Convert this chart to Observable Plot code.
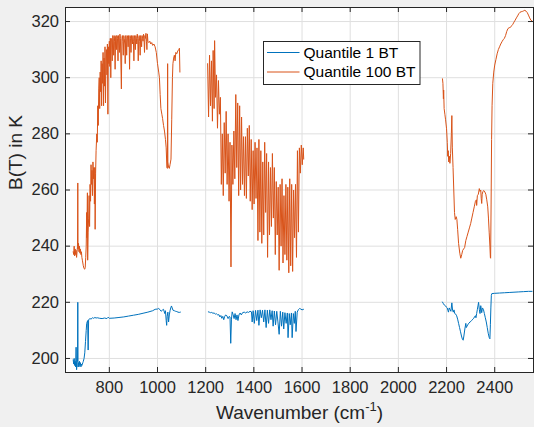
<!DOCTYPE html>
<html>
<head>
<meta charset="utf-8">
<script src="https://cdn.jsdelivr.net/npm/d3@7"></script>
<script src="https://cdn.jsdelivr.net/npm/@observablehq/plot@0.6"></script>
<style>
  html, body { margin: 0; padding: 0; background: #f0f0f0; }
  #chart svg { display: block; }
</style>
</head>
<body>
<div id="chart"></div>
<script>
// ---- Data ----
const seriesNames = ["Quantile 1 BT", "Quantile 100 BT"];
const seriesColors = ["#0072BD", "#D95319"];
const xTicks = [800, 1000, 1200, 1400, 1600, 1800, 2000, 2200, 2400];
const yTicks = [200, 220, 240, 260, 280, 300, 320];

// Quantile 1 BT, band 1
const q1Band1 = [[650,199.5],[652,198],[654,200],[656,197.5],[658,199],[660,197],[662,204],[664,196],[666,198.5],[668,199],[669,220],[670,197],[672,198.5],[674,197],[676,199],[678,197.5],[680,198.5],[682,197],[684,198],[686,197.5],[688,198],[690,198.5],[692,199],[695,200],[698,202],[701,206],[704,210],[706,212.5],[708,213],[710,213.5],[712,203],[714,213.8],[716,214],[720,214.2],[724,214],[730,214.5],[735,214.3],[740,214.6],[745,214.4],[750,214.5],[760,214.3],[770,214.2],[780,214.4],[790,214.2],[795,214.7],[800,214.3],[820,214.4],[840,214.6],[860,214.8],[880,215.1],[900,215.4],[920,215.7],[940,216.1],[960,216.5],[980,217],[990,217.5],[1000,217.6],[1005,217.8],[1010,217.4],[1015,216.8],[1020,217.2],[1025,217.5],[1030,216],[1033,217],[1036,213.5],[1038,211.8],[1040,215],[1043,216.5],[1046,213],[1049,215.5],[1052,217],[1055,218],[1058,218.7],[1061,218],[1064,217.2],[1070,217],[1075,216.8],[1080,216.7],[1085,216.5],[1090,216.4],[1095,216.5]];

// Quantile 1 BT, band 2
const q1Band2 = [[1211,216.6],[1215,216.5],[1220,216.3],[1225,216.4],[1230,216.1],[1235,216.2],[1240,215.8],[1245,215.9],[1250,215.5],[1255,215.6],[1259,214.8],[1263,215.3],[1267,214.3],[1271,215],[1275,213.8],[1279,215],[1283,215.5],[1288,215.2],[1293,214.2],[1298,215],[1301,214.8],[1304,205.4],[1307,214],[1310,216.6],[1314,215.6],[1318,214.2],[1322,216],[1326,213.8],[1330,215.5],[1334,213.5],[1338,215.5],[1343,216.2],[1348,215.5],[1353,216.3],[1360,216.5],[1366,216.2],[1372,216.6],[1378,216.4],[1384,216.8],[1390,216.6],[1393,213],[1397,217],[1402,212.5],[1407,217.1],[1412,213.5],[1417,217.2],[1421,211.8],[1426,217.3],[1431,214.5],[1436,217.2],[1441,213],[1446,217.3],[1451,211],[1456,217.2],[1461,212.5],[1466,217.3],[1471,213.8],[1476,217],[1480,211.5],[1485,216.9],[1490,212],[1495,216.8],[1500,213],[1505,208.6],[1510,216.8],[1515,211.5],[1520,216.5],[1524,210.5],[1529,216.3],[1534,212.5],[1539,216.2],[1542,207.4],[1547,216],[1551,212],[1556,216.2],[1559,207.4],[1564,216],[1568,212.5],[1572,216.8],[1575,209.6],[1580,216.5],[1585,217.4],[1590,217.8],[1595,217.6],[1600,217.3],[1606,217.5]];

// Quantile 1 BT, band 3
const q1Band3 = [[2183,220.1],[2187,219.5],[2191,219],[2195,218.8],[2199,218.3],[2203,218],[2206,217],[2208,216.5],[2211,218],[2214,217.5],[2218,216.8],[2222,219.8],[2225,217.2],[2228,216.5],[2231,217.3],[2234,216],[2238,215.8],[2242,215.2],[2246,214],[2250,212.5],[2254,211],[2258,209.5],[2262,208],[2266,206.8],[2269,206.5],[2272,208],[2276,210.5],[2280,212.5],[2282,211],[2285,211.5],[2289,212.2],[2293,212.5],[2297,213],[2301,213.2],[2305,213.6],[2309,214],[2313,214.3],[2317,215],[2320,215.2],[2322,214.5],[2325,216],[2328,217.5],[2331,219],[2333,220],[2336,217.5],[2339,216],[2342,218.8],[2346,216.3],[2349,218],[2353,217.5],[2357,216],[2361,214.5],[2365,213],[2369,211],[2373,209],[2377,207.5],[2380,207],[2382,212],[2384,218],[2386,222.5],[2388,223.1],[2400,223.2],[2420,223.3],[2440,223.4],[2460,223.5],[2480,223.6],[2500,223.7],[2520,223.8],[2540,223.9],[2555,223.9]];

// Quantile 100 BT, band 1
const q100Band1 = [[650,238],[652,237],[654,240],[656,236.5],[658,239],[660,237],[662,238.5],[664,236],[666,238],[668,240],[669,262.5],[670,239],[672,241],[674,238],[676,240],[678,237.5],[680,239],[682,237],[684,238],[686,236],[688,235],[690,234],[692,233],[695,232],[698,231.8],[700,232.5],[702,236],[704,240],[706,252],[707,243],[709,259],[710,235],[712,245],[714,250],[716,258],[718,247],[720,262],[722,256],[724,269],[726,262],[728,267],[730,258],[732,270],[734,264],[736,268],[738,255],[740,268],[741,246],[743,266],[745,274],[748,280],[750,277],[752,290],[754,283],[756,296],[758,300],[760,289],[762,302],[764,295],[766,306],[768,290],[770,305],[772,298],[774,309],[776,290],[778,307],[780,297],[782,311],[784,291],[786,306],[788,310],[790,301],[792,312],[794,287],[796,311],[798,305],[800,313],[802,304],[804,314],[806,300],[808,314],[810,313.5],[812,306],[814,315],[816,314],[818,308],[820,315],[822,313],[824,303],[826,314.5],[828,315],[830,310],[832,315],[834,314],[836,306],[838,315],[840,314],[842,309],[844,315.5],[846,314],[850,296],[852,314],[854,315],[856,313],[858,308],[860,315],[862,314],[864,312],[866,305],[868,315],[870,314],[872,308],[874,315],[876,314.5],[878,311],[880,315],[882,314],[884,303],[886,315],[888,314],[890,309],[892,315],[894,314],[896,312],[898,315],[900,313],[902,306],[904,315],[906,314],[908,310],[910,315],[912,314],[914,312],[916,315.5],[918,314],[920,306],[922,314],[924,315],[926,313],[928,308],[930,315],[932,314],[934,311],[936,315],[938,314],[940,313],[942,315.5],[944,314],[946,309],[948,315],[950,314],[952,315.8],[954,313],[956,310],[958,315.6],[960,313],[964,312.5],[968,313],[972,312],[976,312.5],[980,311.5],[985,312],[990,311],[995,309],[1000,305],[1005,302],[1008,300],[1011,294],[1014,289],[1018,287],[1021,285.5],[1025,283],[1029,281],[1033,278],[1036,275],[1039,268],[1041,267.7],[1042,305],[1043,270],[1046,268],[1049,267.7],[1052,269],[1056,271],[1059,285],[1062,300],[1064,305],[1067,307],[1070,308],[1073,306],[1076,309],[1080,308.5],[1084,309.5],[1088,310],[1091,310.5],[1093,302]];

// Quantile 100 BT, band 2
const q100Band2 = [[1208,305],[1212,286],[1216,308],[1220,290],[1224,306],[1228,284.5],[1231,309.7],[1235,289],[1237,313.2],[1241,293],[1245,301],[1249,282],[1253,299],[1257,287],[1261,293],[1265,262],[1269,280],[1273,258],[1277,284],[1281,266],[1285,288],[1289,262],[1293,280],[1297,256],[1301,277],[1305,232.6],[1309,276],[1313,262],[1317,281],[1321,264],[1325,294],[1329,268],[1333,291],[1337,258],[1341,290],[1345,260],[1349,286],[1353,262],[1357,279],[1361,258],[1365,279],[1369,257],[1373,282],[1377,265],[1381,283],[1385,256],[1389,278],[1393,253],[1397,274],[1401,255],[1405,277],[1409,257],[1413,275],[1417,242],[1421,278],[1425,245],[1429,274],[1433,241],[1437,270],[1441,244],[1445,277],[1449,252],[1453,273],[1457,236],[1461,270],[1465,244],[1469,268],[1473,247],[1477,273],[1481,250],[1485,268],[1489,237],[1493,263],[1497,244],[1501,261],[1505,231.4],[1509,262],[1513,240],[1517,264],[1521,234],[1525,258],[1529,237],[1533,262],[1537,235],[1541,261],[1545,230.5],[1549,264],[1553,233],[1557,262],[1561,231],[1565,260],[1569,243],[1573,262],[1577,236],[1581,274],[1585,245],[1589,275],[1593,266],[1597,276],[1601,269],[1605,275],[1607,271]];

// Quantile 100 BT, band 3
const q100Band3 = [[2183,299.6],[2185,298],[2187,292.5],[2188,295.6],[2190,289],[2193,287],[2196,285],[2200,281.8],[2203,277],[2205,272],[2207,274],[2209,270],[2212,272],[2214,269.5],[2217,273],[2220,280],[2222,286.5],[2224,275],[2227,268],[2230,260],[2233,252],[2236,249.5],[2240,250.5],[2243,249.5],[2246,246],[2250,241],[2255,237.5],[2259,235.7],[2263,237],[2267,238.5],[2271,239],[2275,239.5],[2280,242],[2285,243.5],[2290,245],[2295,246.5],[2300,248],[2305,250],[2310,252],[2315,254],[2320,256],[2324,256.5],[2325,254.5],[2328,258],[2332,258.5],[2336,260.5],[2339,259.5],[2342,260],[2344,257],[2346,255.2],[2348,258.5],[2351,259.5],[2355,259.8],[2359,259.3],[2363,258.5],[2367,256.5],[2371,254],[2374,250],[2377,245],[2380,240],[2382,236],[2383,235.7],[2385,255],[2387,278],[2389,290],[2392,298],[2396,302],[2400,304.5],[2405,306.5],[2410,308.5],[2415,310],[2420,311],[2425,312],[2430,312.8],[2435,313.5],[2440,314],[2445,315],[2450,316.5],[2455,317.5],[2460,317.8],[2465,317.9],[2470,318.5],[2475,319],[2480,319.8],[2485,320.5],[2490,321.3],[2495,322],[2500,322.8],[2505,323.3],[2510,323.5],[2515,323.6],[2520,323.8],[2525,324],[2530,323.7],[2535,323.2],[2540,322.3],[2545,321.3],[2550,320.5],[2555,320.2]];

// ---- Build table ----
const bands = [
  {series: seriesNames[0], seg: "q1-1", pts: q1Band1},
  {series: seriesNames[0], seg: "q1-2", pts: q1Band2},
  {series: seriesNames[0], seg: "q1-3", pts: q1Band3},
  {series: seriesNames[1], seg: "q100-1", pts: q100Band1},
  {series: seriesNames[1], seg: "q100-2", pts: q100Band2},
  {series: seriesNames[1], seg: "q100-3", pts: q100Band3}
];
const rows = bands.flatMap(b => b.pts.map(([wn, bt]) => ({wn, bt, series: b.series, seg: b.seg})));

const axisColor = "#262626";
const gridColor = "#dfdfdf";
const W = 534, H = 427, mL = 65, mR = 1, mT = 7, mB = 55;
const plotW = W - mL - mR, plotH = H - mT - mB;
const tickLen = 5;

const chart = Plot.plot({
  width: W, height: H,
  marginLeft: mL, marginRight: mR, marginTop: mT, marginBottom: mB,
  style: {background: "#f0f0f0", fontFamily: "'Liberation Sans', Arial, sans-serif", color: axisColor},
  x: {domain: [618, 2561]},
  y: {domain: [195, 325]},
  color: {domain: seriesNames, range: seriesColors},
  marks: [
    Plot.frame({fill: "white", stroke: null}),
    Plot.gridX(xTicks, {stroke: gridColor, strokeOpacity: 1}),
    Plot.gridY(yTicks, {stroke: gridColor, strokeOpacity: 1}),
    Plot.line(rows, {x: "wn", y: "bt", z: "seg", stroke: "series", strokeWidth: 1}),
    Plot.frame({stroke: axisColor, strokeWidth: 1}),
    Plot.tickX(xTicks, {x: d => d, insetTop: plotH - tickLen, stroke: axisColor}),
    Plot.tickX(xTicks, {x: d => d, insetBottom: plotH - tickLen, stroke: axisColor}),
    Plot.tickY(yTicks, {y: d => d, insetRight: plotW - tickLen, stroke: axisColor}),
    Plot.tickY(yTicks, {y: d => d, insetLeft: plotW - tickLen, stroke: axisColor}),
    Plot.axisX(xTicks, {tickSize: 0, tickPadding: 9, fontSize: 16.5, label: null, color: axisColor, tickFormat: d => String(d)}),
    Plot.axisY(yTicks, {tickSize: 0, tickPadding: 6.5, fontSize: 16.5, label: null, color: axisColor, tickFormat: d => String(d)}),
    Plot.text(["Wavenumber (cm^-1)"], {frameAnchor: "bottom", dy: 46, fontSize: 19, fill: axisColor, text: d => d}),
    Plot.text(["B(T) in K"], {frameAnchor: "left", dx: -50, rotate: -90, fontSize: 19, fill: axisColor, text: d => d})
  ]
});

document.getElementById("chart").appendChild(chart);

// superscript for the x label
const svg = d3.select(chart);
svg.selectAll("text").filter(function() { return this.textContent === "Wavenumber (cm^-1)"; })
  .each(function() {
    const t = d3.select(this);
    t.text(null);
    t.append("tspan").text("Wavenumber (cm");
    t.append("tspan").attr("dy", -8).attr("font-size", 13).text("-1");
    t.append("tspan").attr("dy", 8).text(")");
  });

// legend
const lg = svg.append("g")
  .attr("font-family", "'Liberation Sans', Arial, sans-serif")
  .attr("font-size", 15.5)
  .attr("text-anchor", "start");
lg.append("rect").attr("x", 263.5).attr("y", 41.5).attr("width", 156.5).attr("height", 43)
  .attr("fill", "white").attr("stroke", axisColor).attr("stroke-width", 1);
seriesNames.forEach((name, i) => {
  const yy = 52.5 + i * 19.5;
  lg.append("line").attr("x1", 267).attr("x2", 299.5).attr("y1", yy).attr("y2", yy)
    .attr("stroke", seriesColors[i]).attr("stroke-width", 1);
  lg.append("text").attr("x", 303.5).attr("y", yy).attr("dy", "0.35em")
    .attr("text-anchor", "start").attr("fill", "#000").text(name);
});
</script>
</body>
</html>
